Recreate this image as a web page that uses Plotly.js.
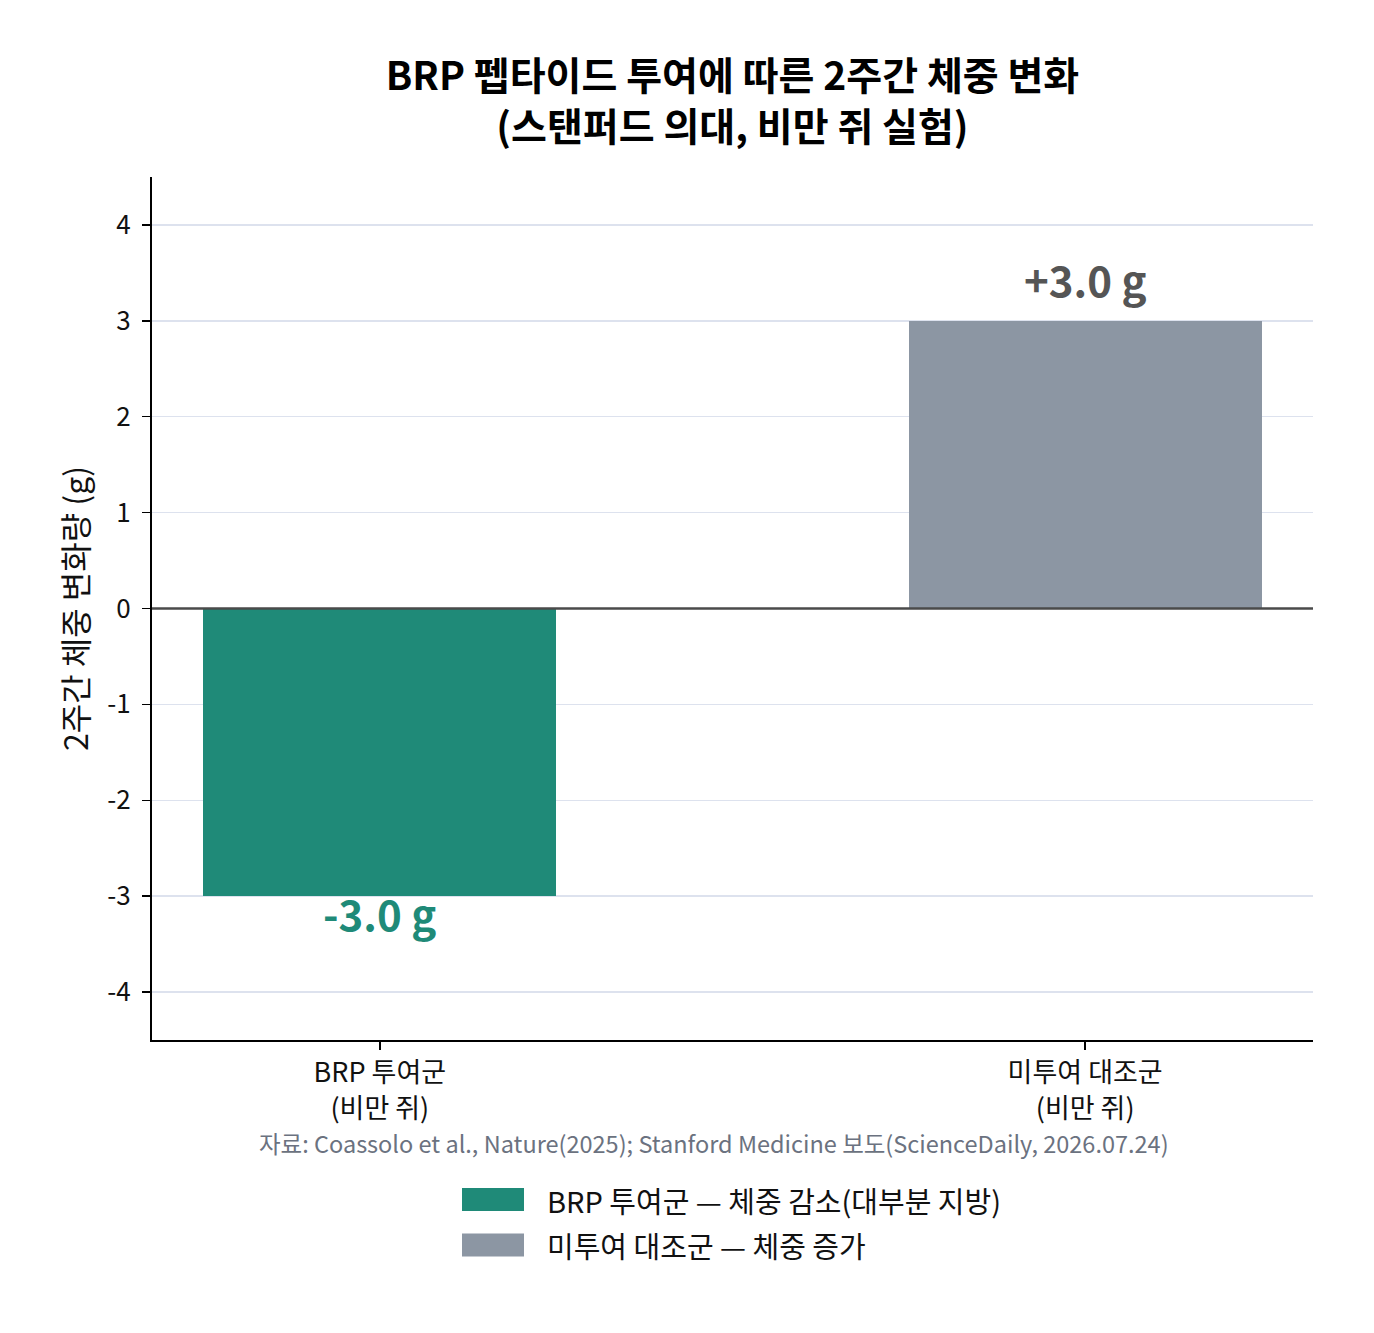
<!DOCTYPE html>
<html><head><meta charset="utf-8">
<script src="https://cdn.plot.ly/plotly-3.0.1.min.js"></script>
<style>body{margin:0;background:#fff}#c{width:1374px;height:1333px}</style>
</head><body><div id="c"></div>
<script>
const categories = ["BRP 투여군<br>(비만 쥐)", "미투여 대조군<br>(비만 쥐)"];
const values = [-3.0, 3.0];
const valueLabels = ["-3.0 g", "+3.0 g"];
const barColors = ["#1f8a78", "#8c96a3"];
const labelColors = ["#1f8a78", "#555555"];
const legendNames = ["BRP 투여군 — 체중 감소(대부분 지방)", "미투여 대조군 — 체중 증가"];
const yTicks = [-4, -3, -2, -1, 0, 1, 2, 3, 4];
const sourceText = "자료: Coassolo et al., Nature(2025); Stanford Medicine 보도(ScienceDaily, 2026.07.24)";
const titleText = "<b>BRP 펩타이드 투여에 따른 2주간 체중 변화<br>(스탠퍼드 의대, 비만 쥐 실험)</b>";

const FONT = "Noto Sans CJK KR, Noto Sans, sans-serif";
const L = 152, R = 1313, T = 177, B = 1040, W = 1374, H = 1333;
const px = x => (x - L) / (R - L);
const py = y => (B - y) / (B - T);

const xIdx = categories.map((_, i) => i);
const trace = {
  type: "bar", x: xIdx, y: values, width: 0.5,
  marker: {color: barColors, line: {width: 0}},
  showlegend: false, hoverinfo: "skip"
};

const annotations = values.map((v, i) => ({
  x: i, y: v, xref: "x", yref: "y",
  text: "<b>" + valueLabels[i] + "</b>", showarrow: false,
  yanchor: "middle", yshift: v < 0 ? -16 : 42,
  font: {family: FONT, size: 42, color: labelColors[i]}
}));
annotations.push({
  x: px(714), y: py(1143), xref: "paper", yref: "paper", showarrow: false,
  text: sourceText, xanchor: "center", yanchor: "middle",
  font: {family: FONT, size: 23.5, color: "#6b7280"}
});
const shapes = [{
  type: "line", xref: "paper", yref: "y", x0: 0, x1: 1, y0: 0, y1: 0,
  line: {color: "#4a4a4a", width: 2.5}, layer: "above"
}];
const legY = [1199.5, 1245];
legendNames.forEach((n, i) => {
  shapes.push({type: "rect", xref: "paper", yref: "paper",
    x0: px(462), x1: px(524), y0: py(legY[i] - 11.5), y1: py(legY[i] + 11.5),
    fillcolor: barColors[i], line: {width: 0}});
  annotations.push({x: px(545), y: py(legY[i]), xref: "paper", yref: "paper",
    showarrow: false, xanchor: "left", yanchor: "middle", text: n,
    font: {family: FONT, size: 29, color: "#111"}});
});

const layout = {
  width: W, height: H,
  margin: {l: L, r: W - R, t: T, b: H - B, pad: 0},
  paper_bgcolor: "#fff", plot_bgcolor: "#fff",
  font: {family: FONT, color: "#111"},
  title: {text: titleText, x: px(732.5), xref: "paper", xanchor: "center",
    y: 1 - 90 / H, yanchor: "middle", yref: "container",
    font: {family: FONT, size: 39, color: "#000"}},
  xaxis: {
    range: [-0.323, 1.323], tickvals: xIdx, ticktext: categories,
    showgrid: false, zeroline: false, showline: true, linecolor: "#000", linewidth: 2,
    ticks: "outside", ticklen: 8, tickwidth: 1.5, tickcolor: "#000",
    tickfont: {family: FONT, size: 27, color: "#111"}, fixedrange: true
  },
  yaxis: {
    range: [-4.5, 4.5], tickvals: yTicks, ticktext: yTicks.map(String),
    showgrid: true, gridcolor: "#dde2ee", gridwidth: 1.5, zeroline: false,
    showline: true, linecolor: "#000", linewidth: 2,
    ticks: "outside", ticklen: 8, tickwidth: 1.5, tickcolor: "#000",
    ticklabelstandoff: 6,
    tickfont: {family: FONT, size: 26, color: "#111"},
    title: {text: "2주간 체중 변화량 (g)", font: {family: FONT, size: 32, color: "#111"}, standoff: 9},
    fixedrange: true
  },
  annotations: annotations, shapes: shapes, bargap: 0
};
Plotly.newPlot("c", [trace], layout, {displayModeBar: false, staticPlot: true});
</script></body></html>
